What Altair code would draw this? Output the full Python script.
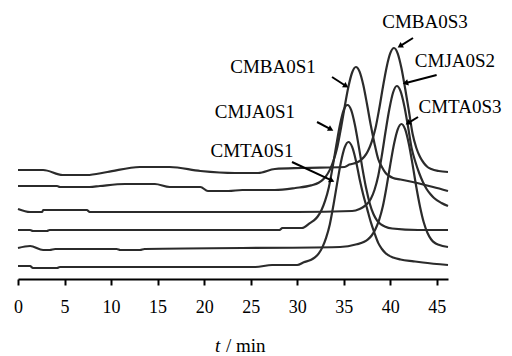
import math
import altair as alt
import pandas as pd

# ---- chromatogram traces (t in min, signal in arbitrary units, offset stacked) ----
series_names = ["CMBA0S3", "CMBA0S1", "CMJA0S2", "CMJA0S1", "CMTA0S3", "CMTA0S1"]

t_cmba0s3 = [0, 2.7, 4.8, 7.4, 9.6, 13.1, 16.3, 19.6, 23.3, 25.8, 27.6, 30.5, 35.1, 35.6, 36.4,
             36.8, 37.2, 37.6, 38.0, 38.4, 38.8, 39.2, 39.6, 40.0, 40.4, 40.8, 41.2, 41.6, 42.0,
             42.4, 42.8, 43.2, 43.6, 44.0, 44.4, 45.2, 46.2]
v_cmba0s3 = [109, 109, 104, 104, 107, 112, 112, 108, 106, 106, 110, 111, 112, 114.4, 116.4,
             118.7, 122.2, 128.0, 137.2, 150.4, 169.7, 191.5, 211.6, 225.8, 231, 225.4, 210.7,
             190.2, 168.0, 145, 131, 122, 116, 112, 110, 108, 107]

t_cmba0s1 = [0, 4.2, 4.5, 7.7, 8.8, 11.5, 14.7, 16.3, 19.6, 20.4, 22.6, 24.1, 27.6, 29.8, 31.5,
             32.3, 32.7, 33.1, 33.5, 33.9, 34.3, 34.7, 35.1, 35.5, 35.9, 36.3, 36.7, 37.1, 37.5,
             37.9, 38.3, 38.7, 39.1, 39.5, 39.9, 40.3, 41.1, 41.9, 43.0, 44.6, 46.2]
v_cmba0s1 = [93, 93, 92, 92, 93, 95, 95, 92, 92, 88, 88, 89, 89, 91, 93.6,
             96.3, 98.9, 102.9, 109.1, 118.5, 131.6, 150.8, 172.3, 192.2, 206.5, 212, 207.3,
             193.9, 174.7, 154.0, 135.6, 120, 112, 106, 103, 101, 99.5, 98, 95.7, 92, 88]

t_cmja0s2 = [0, 1.3, 2.6, 2.7, 7.4, 7.7, 20, 30, 35.9, 36.7, 37.1, 37.5, 37.9, 38.3, 38.7, 39.1,
             39.5, 39.9, 40.3, 40.7, 41.1, 41.5, 41.9, 42.3, 42.7, 43.1, 43.5, 43.9, 44.3, 44.7,
             45.5, 46.2]
v_cmja0s2 = [70, 67, 67, 69, 69, 67, 67, 67, 68, 70, 72, 75, 80, 89, 103, 124,
             148, 170, 186.5, 193, 187.8, 173.2, 152.7, 130.6, 117, 106, 97, 90, 85, 81,
             76, 73]

t_cmja0s1 = [0, 1.3, 1.6, 3.1, 3.4, 28.1, 28.4, 30.5, 31.4, 31.8, 32.2, 32.6, 33.0, 33.4, 33.8,
             34.2, 34.6, 35.0, 35.4, 35.8, 36.2, 36.6, 37.0, 37.4, 37.8, 38.2, 38.6, 39.0, 39.4,
             40.2, 43.0, 46.2]
v_cmja0s1 = [49, 49, 48, 48, 49, 49, 51, 51, 56.2, 58.7, 62.5, 68.7, 78.3, 91.8, 111.6,
             133.8, 154.4, 169.0, 174, 168.9, 154.1, 133.3, 110.9, 90.9, 75.3, 64.7, 58.1, 54.6,
             52.6, 50.5, 49, 49]

t_cmta0s3 = [0, 1.3, 2.7, 3.4, 4.0, 10.6, 11.0, 13.1, 13.6, 34.6, 36.4, 37.2, 37.6, 38.0, 38.4,
             38.8, 39.2, 39.6, 40.0, 40.4, 40.8, 41.2, 41.6, 42.0, 42.4, 42.8, 43.2, 43.6, 44.0,
             44.4, 44.8, 45.2, 46.2]
v_cmta0s3 = [31, 33, 29, 29, 30, 30, 29, 29, 30, 32, 34.7, 37.2, 39.7, 43.5, 49.7,
             59.1, 72.7, 92.3, 114.4, 135.0, 149.7, 155, 149.6, 134.8, 114.1, 91.8, 72.1, 56.5,
             46.0, 39.5, 36.0, 34.2, 32]

t_cmta0s1 = [0, 1.3, 1.6, 4.2, 4.5, 25.5, 27.3, 30.0, 30.7, 31.5, 31.9, 32.3, 32.7, 33.1, 33.5,
             33.9, 34.3, 34.7, 35.1, 35.5, 35.9, 36.3, 36.7, 37.1, 37.5, 37.9, 38.3, 38.7, 39.1,
             39.5, 40.3, 41.1, 42.5, 43.5, 46.2]
v_cmta0s1 = [13, 13, 11, 11, 12, 12, 14, 14, 16.7, 19.2, 21.6, 25.4, 31.6, 41.1, 54.6,
             74.3, 96.4, 117.0, 131.6, 137, 132.1, 118.6, 100.1, 84.1, 70.6, 57.1, 46.0, 36.1,
             30.0, 25.7, 21.4, 19.5, 17.7, 16.5, 14]

# ---- annotation labels and arrows (data coordinates) ----
label_names = ["CMBA0S3", "CMJA0S2", "CMBA0S1", "CMJA0S1", "CMTA0S3", "CMTA0S1"]
label_t = [43.73, 46.95, 27.4, 25.46, 47.49, 25.14]
label_v = [251, 212, 206, 161, 166, 122]
arrow_t0 = [42.44, 44.98, 33.74, 32.13, 42.98, 29.44]
arrow_v0 = [241, 204, 202, 157, 162, 117]
arrow_t1 = [40.72, 41.26, 35.56, 33.95, 41.58, 34.06]
arrow_v1 = [231, 195, 191, 148, 154, 97]

x_ticks = [0, 5, 10, 15, 20, 25, 30, 35, 40, 45]

SERIF = "'Liberation Serif', 'Times New Roman', Times, serif"
W, H = 430, 268
T_MAX, V_MAX = 46.2, 268
sx, sy = W / T_MAX, H / V_MAX

rows = []
for name, ts, vs in zip(series_names,
                        [t_cmba0s3, t_cmba0s1, t_cmja0s2, t_cmja0s1, t_cmta0s3, t_cmta0s1],
                        [v_cmba0s3, v_cmba0s1, v_cmja0s2, v_cmja0s1, v_cmta0s3, v_cmta0s1]):
    for t, v in zip(ts, vs):
        rows.append({"series": name, "t": t, "v": v})
df = pd.DataFrame(rows)

arrows = []
for t0, v0, t1, v1 in zip(arrow_t0, arrow_v0, arrow_t1, arrow_v1):
    dx = (t1 - t0) * sx
    dy = -(v1 - v0) * sy
    ln = math.hypot(dx, dy)
    ux, uy = dx / ln, dy / ln
    ang = math.degrees(math.atan2(dx, -dy)) % 360
    arrows.append({
        "t0": t0, "v0": v0,
        "ts": t1 - ux * 5 / sx, "vs": v1 + uy * 5 / sy,
        "th": t1 - ux * 3.5 / sx, "vh": v1 + uy * 3.5 / sy,
        "ang": ang,
    })
adf = pd.DataFrame(arrows)
ldf = pd.DataFrame({"name": label_names, "t": label_t, "v": label_v})

xscale = alt.Scale(domain=[0, T_MAX], nice=False, zero=False)
yscale = alt.Scale(domain=[0, V_MAX], nice=False, zero=False)

lines = alt.Chart(df).mark_line(color="#2b2b2b", strokeWidth=2.2, interpolate="monotone").encode(
    x=alt.X("t:Q", scale=xscale, axis=alt.Axis(
        values=x_ticks, title=None, grid=False, domainColor="black", domainWidth=2,
        tickColor="black", tickWidth=2, tickSize=6, labelFont=SERIF,
        labelFontSize=18, labelColor="black", labelBaseline="alphabetic", labelPadding=27,
        labelFlush=False)),
    y=alt.Y("v:Q", scale=yscale, axis=None),
    detail="series:N",
)

shafts = alt.Chart(adf).mark_rule(color="black", strokeWidth=2).encode(
    x=alt.X("t0:Q", scale=xscale), y=alt.Y("v0:Q", scale=yscale),
    x2="ts:Q", y2="vs:Q",
)

heads = alt.Chart(adf).mark_point(shape="triangle-up", filled=True, color="black",
                                  size=40, opacity=1).encode(
    x=alt.X("th:Q", scale=xscale), y=alt.Y("vh:Q", scale=yscale),
    angle=alt.Angle("ang:Q", scale=None),
)

labels = alt.Chart(ldf).mark_text(font=SERIF, fontSize=19, color="black",
                                  align="center", baseline="alphabetic").encode(
    x=alt.X("t:Q", scale=xscale), y=alt.Y("v:Q", scale=yscale), text="name:N",
)

title_t = alt.Chart(pd.DataFrame({"s": ["t"]})).mark_text(
    font=SERIF, fontSize=19, fontStyle="italic", color="black",
    align="left", baseline="alphabetic").encode(
    x=alt.value(197), y=alt.value(341), text="s:N")
title_rest = alt.Chart(pd.DataFrame({"s": ["/ min"]})).mark_text(
    font=SERIF, fontSize=19, color="black",
    align="left", baseline="alphabetic").encode(
    x=alt.value(208), y=alt.value(341), text="s:N")

chart = alt.layer(lines, shafts, heads, labels, title_t, title_rest).properties(
    width=W, height=H,
    padding={"left": 10, "top": 3, "right": 56, "bottom": 77},
    autosize=alt.AutoSizeParams(type="none"),
).configure_view(stroke=None)

chart.save("out.html", embed_options={"renderer": "svg", "actions": False})
